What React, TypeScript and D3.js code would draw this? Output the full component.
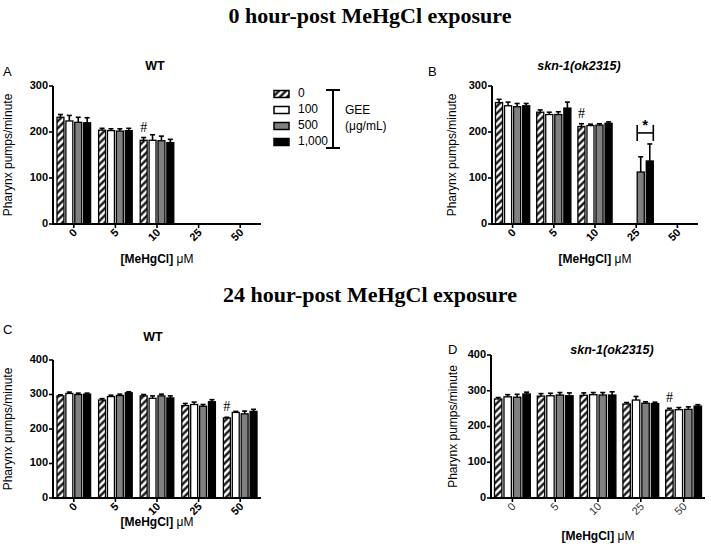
import React from "react";
import * as d3 from "d3";

const categories = ["0", "5", "10", "25", "50"];
const geeDoses = ["0", "100", "500", "1,000"];

// Panel A: 0 h, WT
const meanA = [
  [232, 224, 221, 220],
  [204, 203, 202, 203],
  [182, 182, 181, 177],
  [null, null, null, null],
  [null, null, null, null],
];
const errA = [
  [6, 12, 11, 11],
  [4, 4, 5, 5],
  [6, 12, 10, 7],
  [0, 0, 0, 0],
  [0, 0, 0, 0],
];
// Panel B: 0 h, skn-1(ok2315)
const meanB = [
  [264, 257, 255, 257],
  [243, 238, 238, 252],
  [212, 214, 215, 219],
  [null, null, 113, 137],
  [null, null, null, null],
];
const errB = [
  [7, 8, 7, 5],
  [5, 5, 6, 13],
  [6, 3, 3, 3],
  [0, 0, 33, 37],
  [0, 0, 0, 0],
];
// Panel C: 24 h, WT
const meanC = [
  [296, 303, 300, 301],
  [284, 294, 297, 305],
  [296, 289, 296, 290],
  [268, 271, 266, 279],
  [232, 248, 244, 251],
];
const errC = [
  [3, 4, 4, 3],
  [4, 4, 4, 3],
  [4, 7, 5, 6],
  [6, 7, 5, 6],
  [2, 3, 8, 6],
];
// Panel D: 24 h, skn-1(ok2315)
const meanD = [
  [277, 283, 282, 291],
  [285, 286, 288, 286],
  [287, 289, 288, 288],
  [263, 274, 265, 264],
  [246, 247, 248, 257],
];
const errD = [
  [4, 6, 8, 5],
  [7, 7, 7, 8],
  [7, 6, 7, 9],
  [4, 10, 4, 4],
  [5, 6, 7, 4],
];
const yTicks300 = [0, 100, 200, 300];
const yTicks400 = [0, 100, 200, 300, 400];
const sigB = { category: "25", from: 2, to: 3, value: 198, label: "*" };

const SANS = "'Liberation Sans', Arial, sans-serif";
const SERIF = "'Liberation Serif', 'Times New Roman', serif";
const fills = ["url(#hatch)", "#ffffff", "#808080", "#000000"];

type PanelProps = {
  left: number;
  right: number;
  y0: number;
  yTop: number;
  yMax: number;
  ticks: number[];
  means: (number | null)[][];
  errs: number[][];
  title: string;
  italic?: boolean;
  titleX: number;
  titleY: number;
  letter: string;
  letterX: number;
  letterY: number;
  ylabelX: number;
  xlabelY: number;
  hashCat: string;
  groupPad: number;
  tickBold: boolean;
  sig?: typeof sigB;
};

function Panel(p: PanelProps) {
  const x = d3.scaleBand<string>().domain(categories).range([p.left, p.right]).padding(0);
  const inner = d3
    .scaleBand<string>()
    .domain(geeDoses)
    .range([p.groupPad, x.bandwidth() - p.groupPad])
    .paddingInner(0.22)
    .paddingOuter(0);
  const y = d3.scaleLinear().domain([0, p.yMax]).range([p.y0, p.yTop]);
  const bars: React.ReactNode[] = [];
  categories.forEach((c, ci) => {
    geeDoses.forEach((g, gi) => {
      const v = p.means[ci][gi];
      if (v === null) return;
      const bx = (x(c) as number) + (inner(g) as number);
      const bw = inner.bandwidth();
      const top = y(v);
      const etop = y(v + p.errs[ci][gi]);
      const cx = bx + bw / 2;
      bars.push(
        <g key={c + "-" + g}>
          <line x1={cx} x2={cx} y1={top} y2={etop} stroke="#000" strokeWidth={1.6} />
          <line x1={cx - 2.5} x2={cx + 2.5} y1={etop} y2={etop} stroke="#000" strokeWidth={1.6} />
          <rect x={bx} y={top} width={bw} height={p.y0 - top} fill={fills[gi]} stroke="#000" strokeWidth={1.3} />
        </g>
      );
    });
  });
  // hash marker above first bar of the category
  const hc = categories.indexOf(p.hashCat);
  const hv = (p.means[hc][0] as number) + p.errs[hc][0];
  const hx = (x(p.hashCat) as number) + (inner(geeDoses[0]) as number) + inner.bandwidth() / 2;
  let sigEl: React.ReactNode = null;
  if (p.sig) {
    const s = p.sig;
    const gx = x(s.category) as number;
    const x1 = gx + (inner(geeDoses[s.from]) as number);
    const x2 = gx + (inner(geeDoses[s.to]) as number) + inner.bandwidth();
    const sy = y(s.value);
    sigEl = (
      <g>
        <line x1={x1} x2={x2} y1={sy} y2={sy} stroke="#000" strokeWidth={1.6} />
        <line x1={x1} x2={x1} y1={sy - 8} y2={sy + 8} stroke="#000" strokeWidth={1.6} />
        <line x1={x2} x2={x2} y1={sy - 8} y2={sy + 8} stroke="#000" strokeWidth={1.6} />
        <text x={(x1 + x2) / 2} y={sy - 3} textAnchor="middle" fontFamily={SANS} fontSize={15} fontWeight="bold">
          {s.label}
        </text>
      </g>
    );
  }
  const midY = (p.y0 + p.yTop) / 2;
  return (
    <g>
      <text x={p.letterX} y={p.letterY} fontFamily={SANS} fontSize={13} dominantBaseline="middle">
        {p.letter}
      </text>
      <text
        x={p.titleX}
        y={p.titleY}
        textAnchor="middle"
        dominantBaseline="middle"
        fontFamily={SANS}
        fontSize={12.5}
        fontWeight="bold"
        fontStyle={p.italic ? "italic" : "normal"}
      >
        {p.title}
      </text>
      <text
        transform={`translate(${p.ylabelX},${midY}) rotate(-90)`}
        textAnchor="middle"
        dominantBaseline="middle"
        fontFamily={SANS}
        fontSize={12}
      >
        Pharynx pumps/minute
      </text>
      {bars}
      {/* y axis */}
      <line x1={p.left} x2={p.left} y1={p.y0 + 1} y2={p.yTop} stroke="#000" strokeWidth={2} />
      {p.ticks.map((t) => (
        <g key={t}>
          <line x1={p.left - 4} x2={p.left} y1={y(t)} y2={y(t)} stroke="#000" strokeWidth={1.6} />
          <text
            x={p.left - 5}
            y={y(t)}
            textAnchor="end"
            dominantBaseline="middle"
            fontFamily={SANS}
            fontSize={11}
            fontWeight="bold"
          >
            {t}
          </text>
        </g>
      ))}
      {/* x axis */}
      <line x1={p.left - 1} x2={p.right} y1={p.y0} y2={p.y0} stroke="#000" strokeWidth={2} />
      {categories.map((c) => {
        const cx = (x(c) as number) + x.bandwidth() / 2;
        return (
          <g key={c}>
            <line x1={cx} x2={cx} y1={p.y0} y2={p.y0 + 4} stroke="#000" strokeWidth={1.6} />
            <text
              transform={`translate(${cx + 2},${p.y0 + 7}) rotate(-45)`}
              textAnchor="end"
              dominantBaseline="middle"
              fontFamily={SANS}
              fontSize={11}
              fontWeight={p.tickBold ? "bold" : "normal"}
              fill={p.tickBold ? "#000" : "#333"}
            >
              {c}
            </text>
          </g>
        );
      })}
      <text
        x={(p.left + p.right) / 2}
        y={p.xlabelY}
        textAnchor="middle"
        dominantBaseline="middle"
        fontFamily={SANS}
        fontSize={12}
        fontWeight="bold"
      >
        [MeHgCl] <tspan fontWeight="normal">μM</tspan>
      </text>
      <text x={hx} y={y(hv) - 6} textAnchor="middle" fontFamily={SERIF} fontSize={14}>
        #
      </text>
      {sigEl}
    </g>
  );
}

function Legend() {
  const lx = 274;
  const ly = 94;
  const step = 16;
  return (
    <g>
      {geeDoses.map((g, i) => (
        <g key={g}>
          <rect x={lx} y={ly + i * step - 3.5} width={15} height={7} fill={fills[i]} stroke="#000" strokeWidth={1.5} />
          <text x={lx + 24} y={ly + i * step} dominantBaseline="middle" fontFamily={SANS} fontSize={12}>
            {g}
          </text>
        </g>
      ))}
      <line x1={333} x2={333} y1={90} y2={148} stroke="#000" strokeWidth={2} />
      <line x1={326} x2={340} y1={90} y2={90} stroke="#000" strokeWidth={2} />
      <line x1={326} x2={340} y1={148} y2={148} stroke="#000" strokeWidth={2} />
      <text x={345} y={111} dominantBaseline="middle" fontFamily={SANS} fontSize={12}>
        GEE
      </text>
      <text x={345} y={127} dominantBaseline="middle" fontFamily={SANS} fontSize={12}>
        (μg/mL)
      </text>
    </g>
  );
}

export default function App() {
  return (
    <svg
      width={711}
      height={547}
      viewBox="0 0 711 547"
      style={{ position: "absolute", left: 0, top: 0, background: "#fff" }}
    >
      <defs>
        <pattern id="hatch" patternUnits="userSpaceOnUse" width={5} height={5} patternTransform="rotate(45)">
          <rect width={5} height={5} fill="#fff" />
          <line x1={1.5} y1={0} x2={1.5} y2={5} stroke="#000" strokeWidth={2.2} />
        </pattern>
      </defs>
      <rect width={711} height={547} fill="#fff" />
      <text x={370} y={18} textAnchor="middle" dominantBaseline="middle" fontFamily={SERIF} fontSize={22} fontWeight="bold">
        0 hour-post MeHgCl exposure
      </text>
      <text x={370} y={297} textAnchor="middle" dominantBaseline="middle" fontFamily={SERIF} fontSize={22} fontWeight="bold">
        24 hour-post MeHgCl exposure
      </text>
      <Legend />
      <Panel
        left={53}
        right={261}
        y0={224}
        yTop={86}
        yMax={300}
        ticks={yTicks300}
        means={meanA}
        errs={errA}
        title="WT"
        titleX={155}
        titleY={67}
        letter="A"
        letterX={3}
        letterY={73}
        ylabelX={9}
        xlabelY={260}
        hashCat="10"
        groupPad={4}
        tickBold={true}
      />
      <Panel
        left={492}
        right={698}
        y0={224}
        yTop={86}
        yMax={300}
        ticks={yTicks300}
        means={meanB}
        errs={errB}
        title="skn-1(ok2315)"
        italic={true}
        titleX={579}
        titleY={67}
        letter="B"
        letterX={428}
        letterY={73}
        ylabelX={453}
        xlabelY={260}
        hashCat="10"
        groupPad={3.5}
        tickBold={true}
        sig={sigB}
      />
      <Panel
        left={53}
        right={261}
        y0={498}
        yTop={360}
        yMax={400}
        ticks={yTicks400}
        means={meanC}
        errs={errC}
        title="WT"
        titleX={153}
        titleY={338}
        letter="C"
        letterX={3}
        letterY={331}
        ylabelX={9}
        xlabelY={523}
        hashCat="50"
        groupPad={4}
        tickBold={true}
      />
      <Panel
        left={491}
        right={705}
        y0={498}
        yTop={355}
        yMax={400}
        ticks={yTicks400}
        means={meanD}
        errs={errD}
        title="skn-1(ok2315)"
        italic={true}
        titleX={612}
        titleY={351}
        letter="D"
        letterX={448}
        letterY={351}
        ylabelX={454}
        xlabelY={537}
        hashCat="50"
        groupPad={3.5}
        tickBold={false}
      />
    </svg>
  );
}
